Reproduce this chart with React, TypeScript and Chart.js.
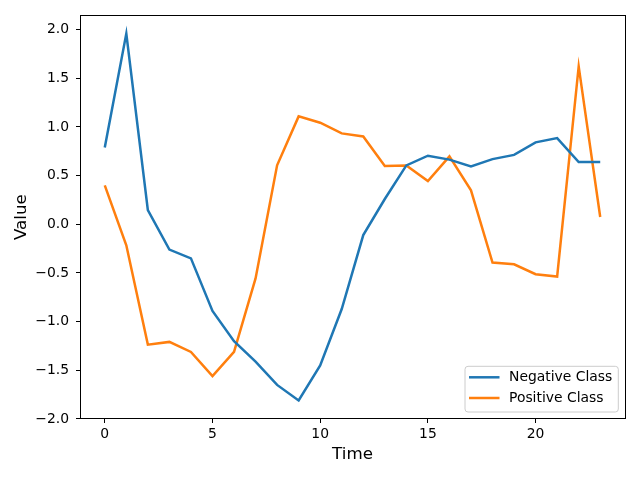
import React, { useEffect, useRef } from 'react';
import { Chart, registerables } from 'chart.js';

Chart.register(...registerables);

const timeSteps = [0, 1, 2, 3, 4, 5, 6, 7, 8, 9, 10, 11, 12, 13, 14, 15, 16, 17, 18, 19, 20, 21, 22, 23];
const negativeClass = [0.79, 1.96, 0.145, -0.26, -0.35, -0.89, -1.2, -1.41, -1.65, -1.81, -1.45, -0.87, -0.11, 0.26, 0.605, 0.705, 0.665, 0.595, 0.67, 0.713, 0.842, 0.886, 0.64, 0.64];
const positiveClass = [0.4, -0.216, -1.236, -1.208, -1.311, -1.56, -1.31, -0.556, 0.606, 1.109, 1.044, 0.934, 0.903, 0.599, 0.604, 0.445, 0.698, 0.349, -0.393, -0.411, -0.513, -0.537, 1.622, 0.075];
const seriesLabels = ['Negative Class', 'Positive Class'];
const seriesColors = ['#1f77b4', '#ff7f0e'];
const xTicks = [0, 5, 10, 15, 20];
const yTicks = [-2.0, -1.5, -1.0, -0.5, 0.0, 0.5, 1.0, 1.5, 2.0];

const FONT = 'DejaVu Sans';

const fmt = (v: number) => v.toFixed(1).replace('-', '\u2212');

const mplLegend = {
  id: 'mplLegend',
  afterDraw(chart: any) {
    const ctx = chart.ctx as CanvasRenderingContext2D;
    const area = chart.chartArea;
    const fontSize = 13.9;
    ctx.save();
    ctx.font = `${fontSize}px "${FONT}"`;
    const labels = chart.data.datasets.map((d: any) => d.label as string);
    const textW = Math.max(...labels.map((l: string) => ctx.measureText(l).width));
    const w = 4 + 31 + 9 + textW + 6;
    const h = 45.7;
    const right = area.right - 6.7;
    const bottom = area.bottom - 7;
    const left = right - w;
    const top = bottom - h;
    const r = 3;
    ctx.beginPath();
    ctx.moveTo(left + r, top);
    ctx.lineTo(right - r, top);
    ctx.quadraticCurveTo(right, top, right, top + r);
    ctx.lineTo(right, bottom - r);
    ctx.quadraticCurveTo(right, bottom, right - r, bottom);
    ctx.lineTo(left + r, bottom);
    ctx.quadraticCurveTo(left, bottom, left, bottom - r);
    ctx.lineTo(left, top + r);
    ctx.quadraticCurveTo(left, top, left + r, top);
    ctx.closePath();
    ctx.fillStyle = 'rgba(255,255,255,0.8)';
    ctx.fill();
    ctx.strokeStyle = '#cccccc';
    ctx.lineWidth = 1;
    ctx.stroke();
    chart.data.datasets.forEach((d: any, i: number) => {
      const cy = top + 11 + i * 20.7;
      ctx.beginPath();
      ctx.strokeStyle = d.borderColor;
      ctx.lineWidth = d.borderWidth;
      ctx.moveTo(left + 4, cy);
      ctx.lineTo(left + 34.5, cy);
      ctx.stroke();
      ctx.fillStyle = '#000';
      ctx.textBaseline = 'middle';
      ctx.textAlign = 'left';
      ctx.fillText(d.label, left + 44, cy);
    });
    ctx.restore();
  },
};

export default function App() {
  const ref = useRef<HTMLCanvasElement | null>(null);

  useEffect(() => {
    if (!ref.current) return;
    const tickFont = { family: FONT, size: 13.9 };
    const titleFont = { family: FONT, size: 16.7 };
    const chart = new Chart(ref.current, {
      type: 'line',
      data: {
        datasets: [negativeClass, positiveClass].map((vals, i) => ({
          label: seriesLabels[i],
          data: timeSteps.map((t, j) => ({ x: t, y: vals[j] })),
          borderColor: seriesColors[i],
          backgroundColor: seriesColors[i],
          borderWidth: 2.5,
          pointRadius: 0,
          tension: 0,
          fill: false,
        })),
      },
      options: {
        animation: false,
        responsive: false,
        layout: { padding: { top: 15, right: 15, left: 0, bottom: 0 } },
        plugins: { legend: { display: false }, tooltip: { enabled: false } },
        scales: {
          x: {
            type: 'linear',
            position: 'bottom',
            min: -1.15,
            max: 24.15,
            afterBuildTicks: (s: any) => { s.ticks = xTicks.map((v) => ({ value: v })); },
            afterFit: (s: any) => { s.height = 59; },
            ticks: { font: tickFont, color: '#000', padding: 3, maxRotation: 0, autoSkip: false, callback: (v: any) => String(v) },
            grid: { display: true, drawOnChartArea: false, tickLength: 4, tickColor: '#000', tickWidth: 1 },
            border: { display: true, color: '#000', width: 1 },
            title: { display: true, text: 'Time', font: titleFont, color: '#000', padding: { top: 14, bottom: 13 } },
          },
          y: {
            type: 'linear',
            position: 'left',
            min: -2.0,
            max: 2.147,
            afterBuildTicks: (s: any) => { s.ticks = yTicks.map((v) => ({ value: v })); },
            afterFit: (s: any) => { s.width = 80; },
            ticks: { font: tickFont, color: '#000', padding: 7, autoSkip: false, callback: (v: any) => fmt(Number(v)) },
            grid: { display: true, drawOnChartArea: false, tickLength: 4, tickColor: '#000', tickWidth: 1 },
            border: { display: true, color: '#000', width: 1 },
            title: { display: true, text: 'Value', font: titleFont, color: '#000', padding: { top: 11.5, bottom: 0 } },
          },
          x2: {
            type: 'linear',
            position: 'top',
            afterFit: (s: any) => { s.height = 0; },
            ticks: { display: false },
            grid: { display: false },
            border: { display: true, color: '#000', width: 1 },
          },
          y2: {
            type: 'linear',
            position: 'right',
            afterFit: (s: any) => { s.width = 0; },
            ticks: { display: false },
            grid: { display: false },
            border: { display: true, color: '#000', width: 1 },
          },
        },
      },
      plugins: [mplLegend],
    } as any);
    return () => chart.destroy();
  }, []);

  return (
    <div style={{ position: 'fixed', left: 0, top: 0, width: 640, height: 478, background: '#fff' }}>
      <canvas ref={ref} width={640} height={478} style={{ display: 'block' }} />
    </div>
  );
}
